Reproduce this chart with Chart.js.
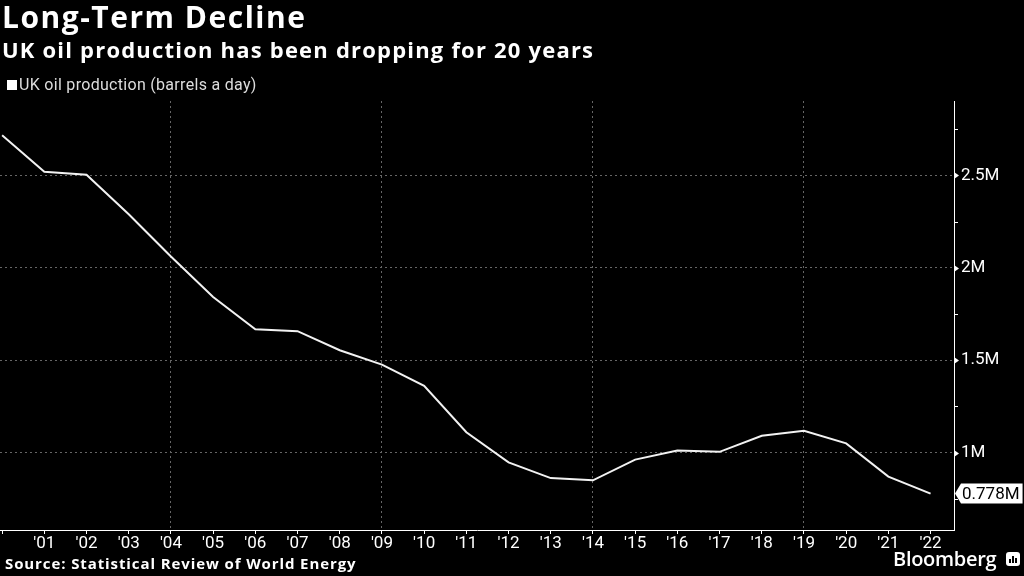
<!DOCTYPE html>
<html>
<head>
<meta charset="utf-8">
<script src="https://cdn.jsdelivr.net/npm/chart.js@4/dist/chart.umd.min.js"></script>
<style>
  html, body { margin:0; padding:0; background:#000; width:1024px; height:576px; overflow:hidden; }
  #wrap { position:relative; width:1024px; height:576px; }
  canvas { position:absolute; left:0; top:0; }
  .t { position:absolute; color:#fff; white-space:nowrap; font-family:"Open Sans", sans-serif; }
  #title { left:2px; top:-4px; font-size:30px; font-weight:700; letter-spacing:1.5px; }
  #sub { left:2px; top:34px; font-size:22px; font-weight:700; letter-spacing:1.2px; }
  #legend { left:7px; top:75px; font-size:16px; color:#ddd; font-family:Roboto, sans-serif; letter-spacing:0.3px; }
  #legend span.sw { display:inline-block; width:10px; height:10px; background:#fff; margin-right:2px; vertical-align:0px; }
  #source { left:5px; top:553px; font-size:15px; font-weight:700; letter-spacing:0.9px; }
  #logo { left:893px; top:545px; font-size:20px; font-weight:600; font-family:"Open Sans", sans-serif; letter-spacing:-0.3px; }
  #icon { position:absolute; left:1006px; top:552px; width:14px; height:14px; background:#fff; border-radius:3px; }
  #icon i { position:absolute; bottom:3px; width:2px; background:#000; }
</style>
</head>
<body>
<div id="wrap">
  <canvas id="c" width="1024" height="576"></canvas>
  <div class="t" id="title">Long-Term Decline</div>
  <div class="t" id="sub">UK oil production has been dropping for 20 years</div>
  <div class="t" id="legend"><span class="sw"></span>UK oil production (barrels a day)</div>
  <div class="t" id="source">Source: Statistical Review of World Energy</div>
  <div class="t" id="logo">Bloomberg</div>
  <div id="icon"><i style="left:3px;height:4px"></i><i style="left:6px;height:7px"></i><i style="left:9px;height:5px"></i></div>
</div>
<script>
const years = [2000,2001,2002,2003,2004,2005,2006,2007,2008,2009,2010,2011,2012,2013,2014,2015,2016,2017,2018,2019,2020,2021,2022];
const production = [2.717,2.520,2.504,2.290,2.061,1.842,1.667,1.657,1.554,1.476,1.361,1.110,0.947,0.862,0.850,0.962,1.011,1.004,1.091,1.118,1.050,0.870,0.778];
const majorTicks = [1, 1.5, 2, 2.5];
const allYTicks = [0.75, 1, 1.25, 1.5, 1.75, 2, 2.25, 2.5, 2.75];
const gridYears = [2004, 2009, 2014, 2019];
const lastLabel = "0.778M";

const points = years.map((y, i) => ({x: y, y: production[i]}));
const GRID = '#666';

const tickPlugin = {
  id: 'customTicks',
  afterDraw(chart) {
    const ctx = chart.ctx;
    const ys = chart.scales.y;
    const ax = ys.left;
    ctx.save();
    ctx.setLineDash([]);
    ctx.fillStyle = '#fff';
    ctx.strokeStyle = '#fff';
    ctx.lineWidth = 1;
    allYTicks.forEach(v => {
      const py = Math.round(ys.getPixelForValue(v)) + 0.5;
      if (majorTicks.includes(v)) {
        ctx.beginPath();
        ctx.moveTo(ax, py - 3.5);
        ctx.lineTo(ax + 5, py);
        ctx.lineTo(ax, py + 3.5);
        ctx.closePath();
        ctx.fill();
      } else {
        ctx.beginPath();
        ctx.moveTo(ax, py);
        ctx.lineTo(ax + 4, py);
        ctx.stroke();
      }
    });
    // last value label
    const lv = production[production.length - 1];
    const py = ys.getPixelForValue(lv);
    const x0 = ax + 1;
    ctx.font = '17px Roboto';
    const tw = ctx.measureText(lastLabel).width;
    const h = 20;
    ctx.beginPath();
    ctx.moveTo(x0, py);
    ctx.lineTo(x0 + 6, py - h / 2);
    ctx.lineTo(x0 + 7 + tw + 3, py - h / 2);
    ctx.lineTo(x0 + 7 + tw + 3, py + h / 2);
    ctx.lineTo(x0 + 6, py + h / 2);
    ctx.closePath();
    ctx.fill();
    ctx.fillStyle = '#000';
    ctx.textBaseline = 'middle';
    ctx.fillText(lastLabel, x0 + 7, py + 1);
    ctx.restore();
  }
};

new Chart(document.getElementById('c'), {
  type: 'line',
  data: {
    datasets: [{
      data: points,
      borderColor: '#f2f2f2',
      borderWidth: 2,
      pointRadius: 0,
      tension: 0,
      fill: false
    }]
  },
  options: {
    responsive: false,
    animation: false,
    events: [],
    layout: { padding: { top: 101, bottom: 24, left: 0, right: 0 } },
    plugins: { legend: { display: false }, tooltip: { enabled: false } },
    scales: {
      x: {
        type: 'linear',
        min: 1999.95,
        max: 2022.555,
        afterBuildTicks(scale) { scale.ticks = years.map(v => ({value: v})); },
        afterFit(scale) { scale.height = 22; },
        ticks: {
          color: '#fff',
          font: { family: 'Roboto', size: 17 },
          padding: 0,
          maxRotation: 0,
          autoSkip: false,
          callback: (v) => v === 2000 ? '' : "'" + String(v).slice(2)
        },
        border: { color: '#fff', width: 1, dash: [2, 3] },
        grid: {
          color: (c) => gridYears.includes(c.tick && c.tick.value) ? GRID : 'rgba(0,0,0,0)',
          tickColor: '#fff',
          tickLength: 4,
          tickBorderDash: [],
          drawOnChartArea: true
        }
      },
      y: {
        position: 'right',
        min: 0.581,
        max: 2.903,
        afterBuildTicks(scale) { scale.ticks = allYTicks.map(v => ({value: v})); },
        afterFit(scale) { scale.width = 70; },
        ticks: {
          color: '#fff',
          font: { family: 'Roboto', size: 17 },
          padding: 7,
          callback: (v) => majorTicks.includes(v) ? (v + 'M') : ''
        },
        border: { color: '#fff', width: 1, dash: [2, 3] },
        grid: {
          color: (c) => majorTicks.includes(c.tick && c.tick.value) ? GRID : 'rgba(0,0,0,0)',
          drawTicks: false
        }
      }
    }
  },
  plugins: [tickPlugin]
});
</script>
</body>
</html>
